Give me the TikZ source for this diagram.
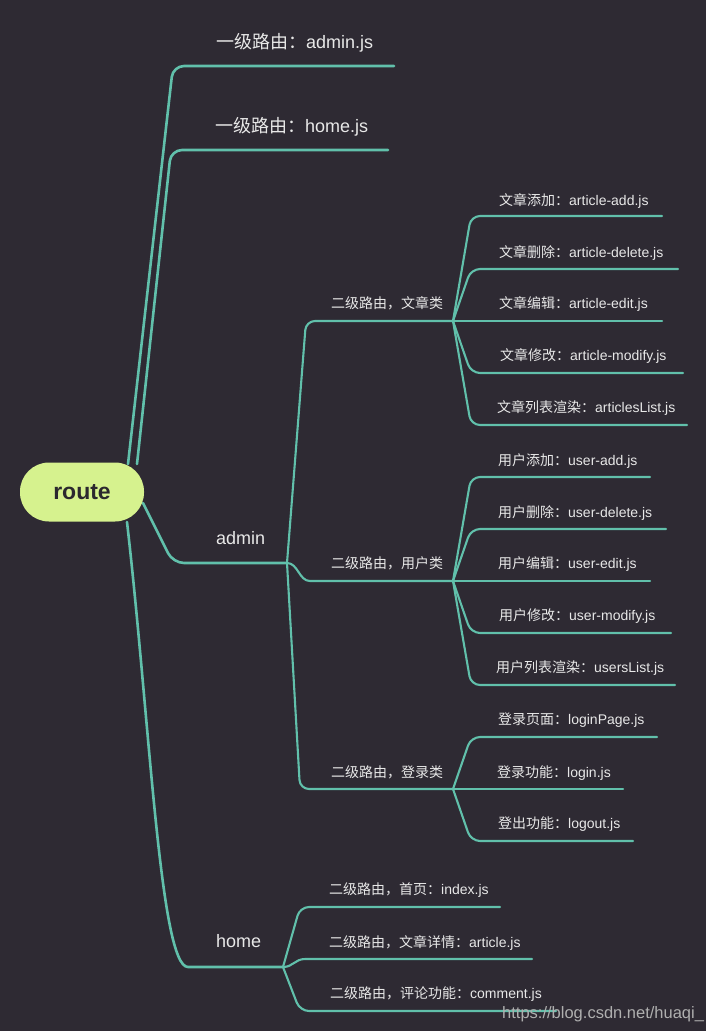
\documentclass[tikz,border=0pt]{standalone}
\usepackage{fontspec}
\setmainfont{Liberation Sans}
\newfontfamily\cjk{Noto Sans CJK SC}
\usetikzlibrary{calc}
\definecolor{bgcol}{RGB}{46,42,51}
\definecolor{linecol}{RGB}{97,192,171}
\definecolor{rootfill}{RGB}{214,242,142}
\definecolor{roottext}{RGB}{43,40,46}
\definecolor{txtcol}{RGB}{232,232,232}
\definecolor{wmcol}{RGB}{175,175,175}
\tikzset{
  link/.style={draw=linecol, line width=2.1pt, line cap=round, line join=round},
  biglink/.style={link, line width=2.6pt},
  lbl/.style={anchor=base west, inner sep=0pt, text=txtcol},
  bigtxt/.style={lbl, font=\fontsize{18}{20}\selectfont},
  smalltxt/.style={lbl, font=\fontsize{14}{16}\selectfont},
  rootbox/.style={fill=rootfill, rounded corners=29pt, minimum width=124pt, minimum height=59pt,
    inner sep=0pt, text=roottext, font=\fontsize{23}{26}\selectfont\bfseries},
  wmtxt/.style={anchor=base west, inner sep=0pt, text=wmcol, font=\fontsize{16.5}{18}\selectfont}
}
\begin{document}
\begin{tikzpicture}[x=1pt,y=-1pt]
\fill[bgcol] (0,0) rectangle (706,1031);
\useasboundingbox (0,0) rectangle (706,1031);

% ports on root
\coordinate (pA) at (128,464);
\coordinate (pB) at (137,464);
\coordinate (pC) at (143,503);
\coordinate (pD) at (127,522);

% level 1 underlines
\coordinate (adjsS) at (173,66);  \coordinate (adjsE) at (394,66);
\coordinate (hmjsS) at (171,150); \coordinate (hmjsE) at (388,150);
\coordinate (admS) at (173,563);  \coordinate (admE) at (287,563);
\coordinate (homS) at (188,967);  \coordinate (homE) at (283,967);

% level 2 (admin)
\coordinate (artS) at (306,321); \coordinate (artE) at (453,321);
\coordinate (usrS) at (310,581); \coordinate (usrE) at (453,581);
\coordinate (logS) at (300,789); \coordinate (logE) at (453,789);

% leaves article
\coordinate (a1S) at (471,216); \coordinate (a1E) at (662,216);
\coordinate (a2S) at (471,269); \coordinate (a2E) at (678,269);
\coordinate (a3E) at (662,321);
\coordinate (a4S) at (471,373); \coordinate (a4E) at (683,373);
\coordinate (a5S) at (471,425); \coordinate (a5E) at (687,425);
% leaves user
\coordinate (u1S) at (471,477); \coordinate (u1E) at (650,477);
\coordinate (u2S) at (471,529); \coordinate (u2E) at (666,529);
\coordinate (u3E) at (650,581);
\coordinate (u4S) at (471,633); \coordinate (u4E) at (671,633);
\coordinate (u5S) at (471,685); \coordinate (u5E) at (675,685);
% leaves login
\coordinate (g1S) at (471,737); \coordinate (g1E) at (657,737);
\coordinate (g2E) at (623,789);
\coordinate (g3S) at (471,841); \coordinate (g3E) at (633,841);
% home children
\coordinate (h1S) at (300,907); \coordinate (h1E) at (500,907);
\coordinate (h2S) at (305,959); \coordinate (h2E) at (532,959);
\coordinate (h3S) at (300,1011); \coordinate (h3E) at (556,1011);

% connectors from root
\draw[biglink, rounded corners=11pt] (pA) -- (adjsS) -- (adjsE);
\draw[biglink, rounded corners=11pt] (pB) -- (hmjsS) -- (hmjsE);
\draw[biglink, rounded corners=11pt] (pC) -- (admS) -- (admE);
\draw[biglink] (pD) .. controls +(23,200) and +(-28,0) .. (homS) -- (homE);

% admin children
\draw[link, rounded corners=9pt] (admE) -- (artS) -- (artE);
\draw[link] (admE) .. controls +(11,0) and +(-11,0) .. (usrS) -- (usrE);
\draw[link, rounded corners=9pt] (admE) -- (logS) -- (logE);

% article leaves
\draw[link, rounded corners=9pt] (artE) -- (a1S) -- (a1E);
\draw[link, rounded corners=9pt] (artE) -- (a2S) -- (a2E);
\draw[link] (artE) -- (a3E);
\draw[link, rounded corners=9pt] (artE) -- (a4S) -- (a4E);
\draw[link, rounded corners=9pt] (artE) -- (a5S) -- (a5E);
% user leaves
\draw[link, rounded corners=9pt] (usrE) -- (u1S) -- (u1E);
\draw[link, rounded corners=9pt] (usrE) -- (u2S) -- (u2E);
\draw[link] (usrE) -- (u3E);
\draw[link, rounded corners=9pt] (usrE) -- (u4S) -- (u4E);
\draw[link, rounded corners=9pt] (usrE) -- (u5S) -- (u5E);
% login leaves
\draw[link, rounded corners=9pt] (logE) -- (g1S) -- (g1E);
\draw[link] (logE) -- (g2E);
\draw[link, rounded corners=9pt] (logE) -- (g3S) -- (g3E);
% home children
\draw[link, rounded corners=9pt] (homE) -- (h1S) -- (h1E);
\draw[link] (homE) .. controls +(10,0) and +(-10,0) .. (h2S) -- (h2E);
\draw[link, rounded corners=9pt] (homE) -- (h3S) -- (h3E);

% root
\node[rootbox] (root) at (82,492) {route};

% labels
\node[bigtxt] (tadjs) at (216,48) {{\cjk 一级路由：}admin.js};
\node[bigtxt] (thmjs) at (215,132) {{\cjk 一级路由：}home.js};
\node[bigtxt] (tadm) at (216,544) {admin};
\node[bigtxt] (thom) at (216,947) {home};

\node[smalltxt] (tart) at (331,308) {{\cjk 二级路由，文章类}};
\node[smalltxt] (tusr) at (331,568) {{\cjk 二级路由，用户类}};
\node[smalltxt] (tlog) at (331,777) {{\cjk 二级路由，登录类}};

\node[smalltxt] (ta1) at (499,205) {{\cjk 文章添加：}article-add.js};
\node[smalltxt] (ta2) at (499,257) {{\cjk 文章删除：}article-delete.js};
\node[smalltxt] (ta3) at (499,308) {{\cjk 文章编辑：}article-edit.js};
\node[smalltxt] (ta4) at (500,360) {{\cjk 文章修改：}article-modify.js};
\node[smalltxt] (ta5) at (497,412) {{\cjk 文章列表渲染：}articlesList.js};

\node[smalltxt] (tu1) at (498,465) {{\cjk 用户添加：}user-add.js};
\node[smalltxt] (tu2) at (498,517) {{\cjk 用户删除：}user-delete.js};
\node[smalltxt] (tu3) at (498,568) {{\cjk 用户编辑：}user-edit.js};
\node[smalltxt] (tu4) at (499,620) {{\cjk 用户修改：}user-modify.js};
\node[smalltxt] (tu5) at (496,672) {{\cjk 用户列表渲染：}usersList.js};

\node[smalltxt] (tg1) at (498,724) {{\cjk 登录页面：}loginPage.js};
\node[smalltxt] (tg2) at (497,777) {{\cjk 登录功能：}login.js};
\node[smalltxt] (tg3) at (498,828) {{\cjk 登出功能：}logout.js};

\node[smalltxt] (th1) at (329,894) {{\cjk 二级路由，首页：}index.js};
\node[smalltxt] (th2) at (329,947) {{\cjk 二级路由，文章详情：}article.js};
\node[smalltxt] (th3) at (330,998) {{\cjk 二级路由，评论功能：}comment.js};

\node[wmtxt] (wm) at (502,1018) {https://blog.csdn.net/huaqi\_};
\end{tikzpicture}
\end{document}
